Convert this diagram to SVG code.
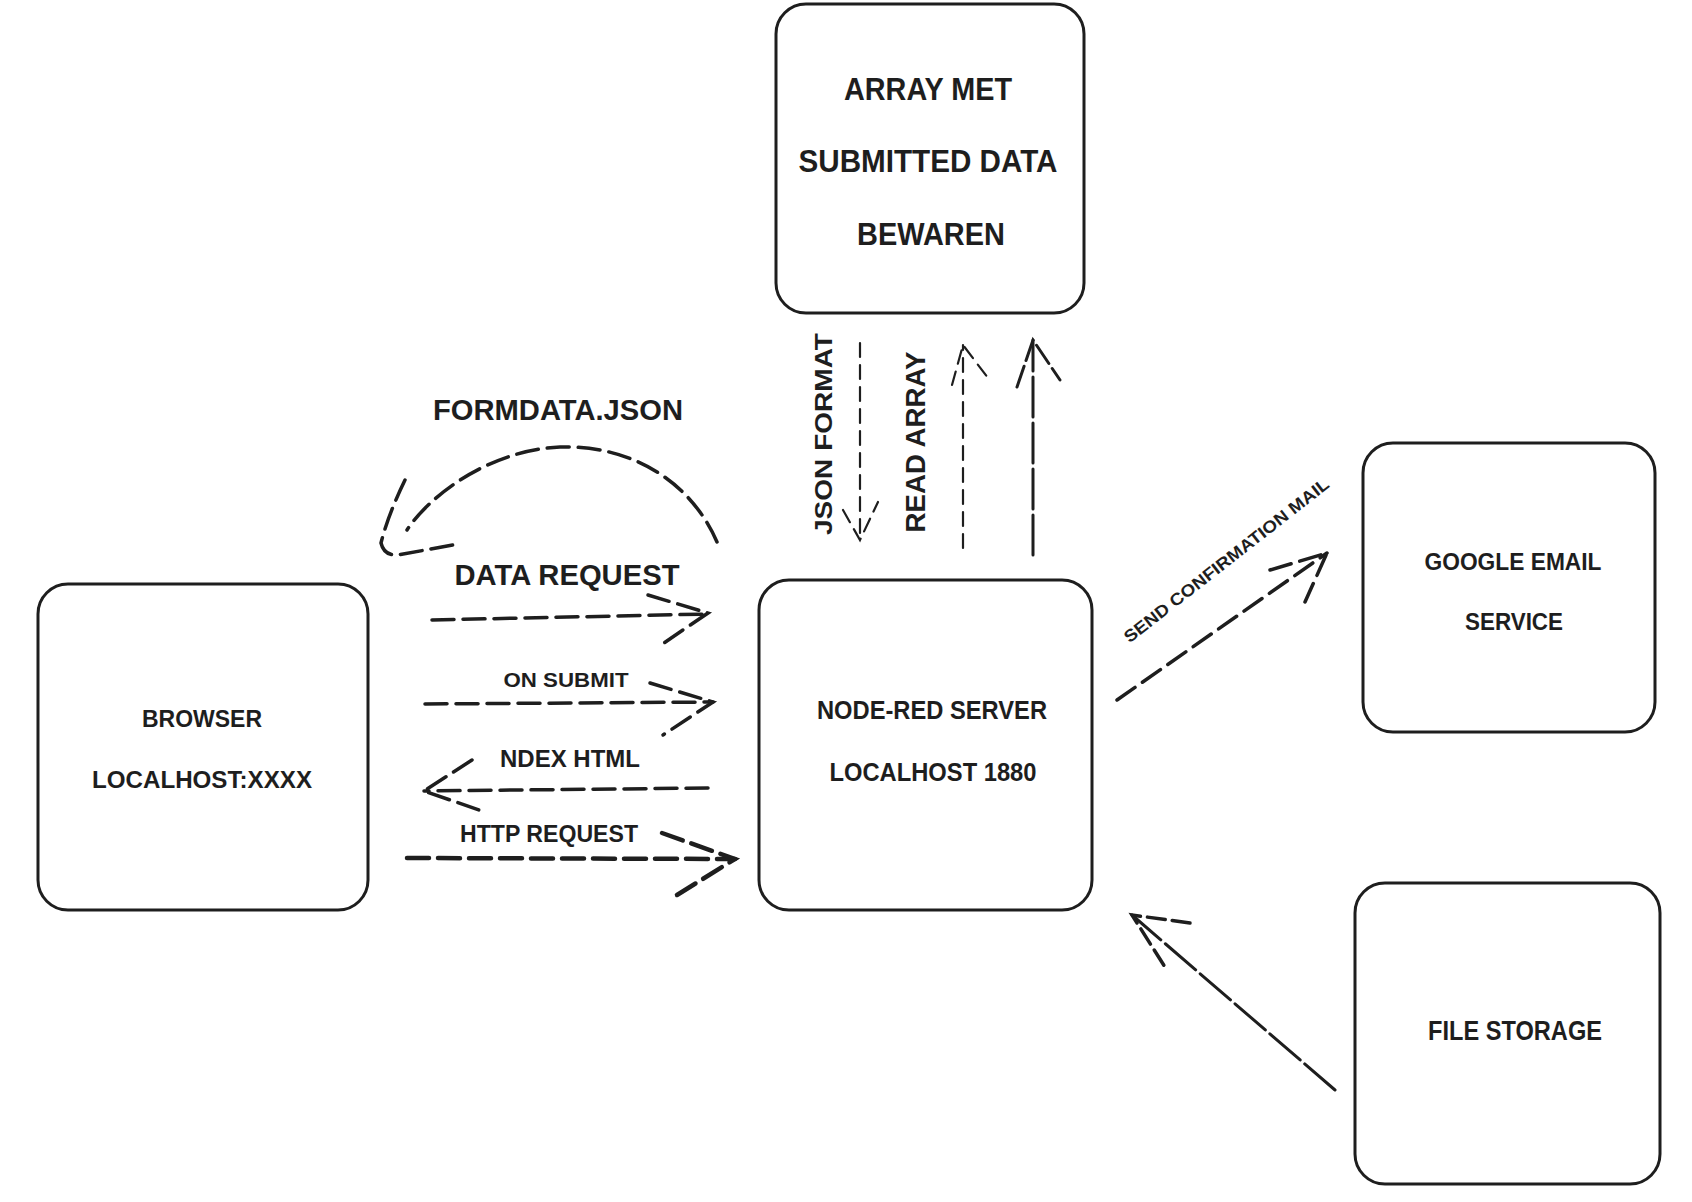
<svg xmlns="http://www.w3.org/2000/svg" width="1692" height="1202" viewBox="0 0 1692 1202">
<style>
.box{fill:#fff;stroke:#1e1e1e;stroke-width:3}
.t{font-family:"Liberation Sans",Arial,sans-serif;font-weight:bold;fill:#1e1e1e;text-anchor:middle}
.d{fill:none;stroke:#1e1e1e;stroke-width:3.5;stroke-linecap:round;stroke-dasharray:22 9}
.dt{fill:none;stroke:#1e1e1e;stroke-width:2.2;stroke-linecap:round;stroke-dasharray:14 8}
.dl{fill:none;stroke:#1e1e1e;stroke-width:3;stroke-linecap:round;stroke-dasharray:40 6}
</style>
<rect width="1692" height="1202" fill="#fff"/>
<g id="node-array">
<rect class="box" x="776" y="4" width="308" height="309" rx="30"/>
<text class="t" x="928" y="100" font-size="31" textLength="168" lengthAdjust="spacingAndGlyphs">ARRAY MET</text>
<text class="t" x="928" y="172" font-size="31" textLength="259" lengthAdjust="spacingAndGlyphs">SUBMITTED DATA</text>
<text class="t" x="931" y="245" font-size="31" textLength="148" lengthAdjust="spacingAndGlyphs">BEWAREN</text>
</g>
<g id="node-browser">
<rect class="box" x="38" y="584" width="330" height="326" rx="30"/>
<text class="t" x="202" y="727" font-size="23" textLength="120" lengthAdjust="spacingAndGlyphs">BROWSER</text>
<text class="t" x="202" y="788" font-size="23" textLength="220" lengthAdjust="spacingAndGlyphs">LOCALHOST:XXXX</text>
</g>
<g id="node-nodered">
<rect class="box" x="759" y="580" width="333" height="330" rx="30"/>
<text class="t" x="932" y="719" font-size="25" textLength="230" lengthAdjust="spacingAndGlyphs">NODE-RED SERVER</text>
<text class="t" x="933" y="781" font-size="25" textLength="207" lengthAdjust="spacingAndGlyphs">LOCALHOST 1880</text>
</g>
<g id="node-google">
<rect class="box" x="1363" y="443" width="292" height="289" rx="30"/>
<text class="t" x="1513" y="570" font-size="23" textLength="177" lengthAdjust="spacingAndGlyphs">GOOGLE EMAIL</text>
<text class="t" x="1514" y="630" font-size="23" textLength="98" lengthAdjust="spacingAndGlyphs">SERVICE</text>
</g>
<g id="node-filestorage">
<rect class="box" x="1355" y="883" width="305" height="301" rx="30"/>
<text class="t" x="1515" y="1040" font-size="27" textLength="174" lengthAdjust="spacingAndGlyphs">FILE STORAGE</text>
</g>
<g id="connectors">
<path class="d" d="M717,542 C690,480 630,445 560,447 C490,450 430,495 407,530"/>
<path class="d" d="M405,480 Q388,515 381,543 Q384,556 398,555 L453,545"/>
<text class="t" x="558" y="420" font-size="29" textLength="250" lengthAdjust="spacingAndGlyphs">FORMDATA.JSON</text>
<path class="d" d="M432,620 L708,614"/>
<path class="d" d="M648,595 L708,613 L658,647"/>
<text class="t" x="567" y="585" font-size="29" textLength="225" lengthAdjust="spacingAndGlyphs">DATA REQUEST</text>
<path class="d" d="M425,704 L713,702"/>
<path class="d" d="M650,683 L713,702 L663,735"/>
<text class="t" x="566" y="687" font-size="21" textLength="125" lengthAdjust="spacingAndGlyphs">ON SUBMIT</text>
<path class="d" d="M708,788 L424,791"/>
<path class="d" d="M472,760 L424,791 L485,812"/>
<text class="t" x="570" y="767" font-size="23" textLength="140" lengthAdjust="spacingAndGlyphs">NDEX HTML</text>
<path class="d" style="stroke-width:4.5" d="M407,858 L735,859"/>
<path class="d" style="stroke-width:4.5" d="M662,833 L735,859 L677,895"/>
<text class="t" x="549" y="842" font-size="23" textLength="178" lengthAdjust="spacingAndGlyphs">HTTP REQUEST</text>
<path class="dt" d="M860,343 L860,540"/>
<path class="dt" d="M843,510 L860,540 L878,502"/>
<text class="t" transform="translate(832,434) rotate(-90)" x="0" y="0" font-size="23" textLength="202" lengthAdjust="spacingAndGlyphs">JSON FORMAT</text>
<path class="dt" d="M963,548 L963,345"/>
<path class="dt" d="M952,385 L963,345 L988,378"/>
<text class="t" transform="translate(925,442) rotate(-90)" x="0" y="0" font-size="28" textLength="181" lengthAdjust="spacingAndGlyphs">READ ARRAY</text>
<path class="dl" d="M1033,555 L1033,340"/>
<path class="dl" style="stroke-dasharray:22 6" d="M1017,387 L1033,340 L1060,380"/>
<path class="d" d="M1117,700 L1327,553"/>
<path class="d" d="M1270,570 L1327,553 L1305,602"/>
<text class="t" transform="translate(1230,565) rotate(-38)" x="0" y="0" font-size="17" textLength="255" lengthAdjust="spacingAndGlyphs">SEND CONFIRMATION MAIL</text>
<path class="dl" d="M1335,1090 L1132,915"/>
<path class="d" style="stroke-dasharray:18 7" d="M1190,923 L1132,915 L1165,967"/>
</g>
</svg>
